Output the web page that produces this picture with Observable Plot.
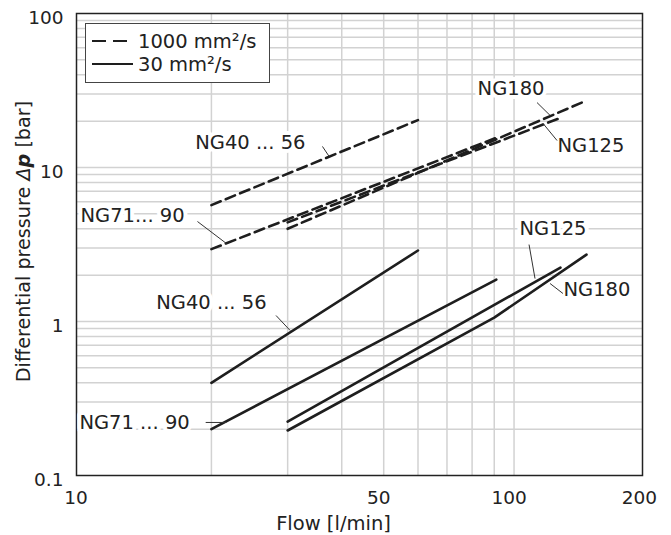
<!DOCTYPE html>
<html>
<head>
<meta charset="utf-8">
<script src="https://cdn.jsdelivr.net/npm/d3@7"></script>
<script src="https://cdn.jsdelivr.net/npm/@observablehq/plot@0.6"></script>
<style>
  body { margin: 0; background: #fff; font-family: "DejaVu Sans", sans-serif; }
  #wrap { position: relative; width: 671px; height: 535px; }
  #wrap svg { display: block; }
  #legend { position: absolute; left: 85px; top: 23px; width: 185px; height: 60px;
            box-sizing: border-box; border: 1px solid #444; background: #fff; }
  .lrow { position: absolute; left: 6px; height: 22px; display: flex; align-items: center; }
  .lrow span { font-size: 19.5px; color: #222; margin-left: 4px; }
</style>
</head>
<body>
<div id="wrap"><div id="legend"></div></div>
<script>
// ---- axis ticks / grid ----
const flowTicks = [10, 50, 100, 200];
const flowGrid = [20, 30, 40, 50, 60, 70, 80, 90, 100];
const pressureTicks = [0.1, 1, 10, 100];
const pressureGrid = [0.2, 0.3, 0.4, 0.5, 0.6, 0.7, 0.8, 0.9, 1, 2, 3, 4, 5, 6, 7, 8, 9, 10, 20, 30, 40, 50, 60, 70, 80, 90];

// ---- series (flow l/min, Δp bar) ----
const v1000_NG40_56 = [[20, 5.7], [60, 20.3]];
const v1000_NG71_90 = [[20, 2.95], [91, 15.6]];
const v1000_NG125   = [[30, 4.4], [128, 21.0]];
const v1000_NG180   = [[30, 4.0], [147, 27.2]];
const v30_NG40_56   = [[20, 0.40], [60, 2.89]];
const v30_NG71_90   = [[20, 0.20], [91, 1.87]];
const v30_NG125     = [[30, 0.224], [128, 2.24]];
const v30_NG180     = [[30, 0.196], [90, 1.06], [147, 2.72]];

// ---- annotations ----
const labelTexts = ["NG40 ... 56", "NG71... 90", "NG180", "NG125", "NG40 ... 56", "NG71 ... 90", "NG125", "NG180"];
const labelFlow  = [24.6, 13.15, 98.4, 150.5, 20.0, 13.29, 123.0, 155.4];
const labelDp    = [14.5, 4.88, 32.6, 13.9, 1.328, 0.221, 4.02, 1.614];
const leaderFrom = [[36.1, 13.7], [18.57, 4.46], [113.0, 26.4], [116.7, 19.3], [28.2, 1.094], [19.4, 0.221], [108.3, 3.16], [121.1, 1.765]];
const leaderTo   = [[37.4, 11.8], [21.66, 3.21], [121.1, 21.8], [125.7, 14.97], [30.4, 0.874], [21.66, 0.221], [111.8, 1.90], [129.7, 1.52]];

const legendLabels = ["1000 mm²/s", "30 mm²/s"];
const xLabel = "Flow [l/min]";
const yLabel = "Differential pressure Δp [bar]";

const toRows = (arr, name, visc) => arr.map(([flow, dp]) => ({name, visc, flow, dp}));
const dashedRows = [
  ...toRows(v1000_NG40_56, "NG40-56", 1000),
  ...toRows(v1000_NG71_90, "NG71-90", 1000),
  ...toRows(v1000_NG125, "NG125", 1000),
  ...toRows(v1000_NG180, "NG180", 1000)
];
const solidRows = [
  ...toRows(v30_NG40_56, "NG40-56", 30),
  ...toRows(v30_NG71_90, "NG71-90", 30),
  ...toRows(v30_NG125, "NG125", 30),
  ...toRows(v30_NG180, "NG180", 30)
];
const labels = labelTexts.map((t, i) => ({t, flow: labelFlow[i], dp: labelDp[i]}));
const leaders = leaderFrom.map((f, i) => ({x1: f[0], y1: f[1], x2: leaderTo[i][0], y2: leaderTo[i][1]}));

const FS = 18.5;
const ink = "#1e1e1e";

const chart = Plot.plot({
  width: 671,
  height: 535,
  marginLeft: 76,
  marginRight: 29,
  marginTop: 13,
  marginBottom: 60,
  style: {fontFamily: "'DejaVu Sans', sans-serif", fontSize: FS + "px", color: "#222", background: "#fff"},
  x: {type: "log", domain: [9.76, 198]},
  y: {type: "log", domain: [0.1, 100]},
  marks: [
    Plot.ruleX(flowGrid, {stroke: "#d2d2d2", strokeWidth: 1.5}),
    Plot.ruleY(pressureGrid, {stroke: "#d2d2d2", strokeWidth: 1.5}),
    Plot.axisX(flowTicks, {tickSize: 0, tickPadding: 15, dx: -5, tickFormat: d => String(d), label: null, fontSize: FS}),
    Plot.axisY(pressureTicks, {tickSize: 0, tickPadding: 13, dy: 5, tickFormat: d => String(d), label: null, fontSize: FS}),
    Plot.frame({stroke: "#222", strokeWidth: 1.5}),
    Plot.line(dashedRows, {x: "flow", y: "dp", z: "name", stroke: ink, strokeWidth: 2.6, strokeDasharray: "10,5.5"}),
    Plot.line(solidRows, {x: "flow", y: "dp", z: "name", stroke: ink, strokeWidth: 2.6}),
    Plot.text(labels, {x: "flow", y: "dp", text: "t", fontSize: 19.5, fill: "#222", stroke: "white", strokeWidth: 8}),
    Plot.link(leaders, {x1: "x1", y1: "y1", x2: "x2", y2: "y2", stroke: "#333", strokeWidth: 1}),
    Plot.text([xLabel], {frameAnchor: "bottom", lineAnchor: "middle", dy: 48, dx: -26, fontSize: 19.5, fill: "#222"}),
    Plot.text([yLabel], {frameAnchor: "left", textAnchor: "middle", lineAnchor: "middle", rotate: -90, dx: -53, dy: -3, fontSize: 19.2, fill: "#222"})
  ]
});

document.getElementById("wrap").prepend(chart);

// style "Δp" in the y label
d3.select(chart).selectAll("text").each(function () {
  const el = d3.select(this);
  const s = el.text();
  if (s === yLabel) {
    const i = s.indexOf("Δp");
    el.text(null);
    el.append("tspan").text(s.slice(0, i));
    el.append("tspan").attr("font-style", "italic").text("Δ");
    el.append("tspan").attr("font-style", "italic").attr("font-weight", "bold").text("p");
    el.append("tspan").text(s.slice(i + 2));
  }
});

// legend
const legend = d3.select("#legend");
const dashes = ["14,7", null];
legendLabels.forEach((lab, i) => {
  const row = legend.append("div").attr("class", "lrow").style("top", (6 + i * 23) + "px");
  const s = row.append("svg").attr("width", 42).attr("height", 10);
  const ln = s.append("line").attr("x1", 0).attr("x2", 41).attr("y1", 5).attr("y2", 5)
    .attr("stroke", ink).attr("stroke-width", 2);
  if (dashes[i]) ln.attr("stroke-dasharray", dashes[i]);
  row.append("span").text(lab);
});
</script>
</body>
</html>
